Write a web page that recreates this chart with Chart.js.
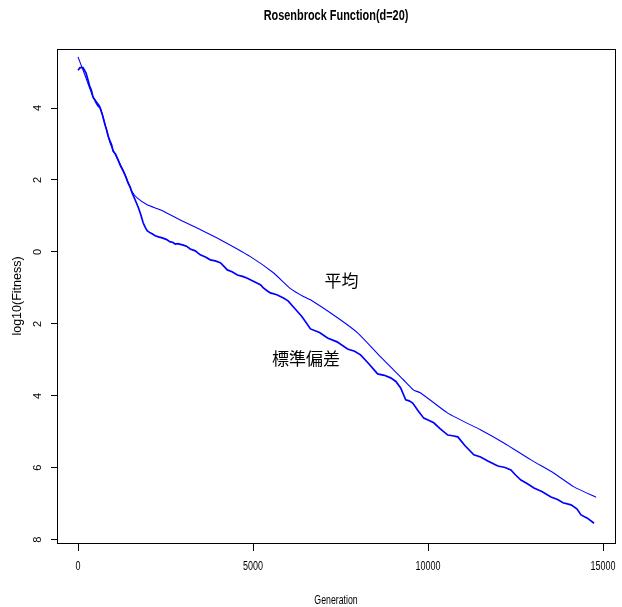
<!DOCTYPE html>
<html><head><meta charset="utf-8">
<script src="https://cdn.jsdelivr.net/npm/chart.js@4/dist/chart.umd.min.js"></script>
<style>html,body{margin:0;padding:0;background:#fff}#wrap{width:622px;height:607px}</style>
</head><body><div id="wrap"><canvas id="c" width="622" height="607"></canvas></div>
<script>
const chartTitle = "Rosenbrock Function(d=20)";
const xTitle = "Generation";
const yTitle = "log10(Fitness)";
const xTicks = [0, 5000, 10000, 15000];
const yTicks = [-8, -6, -4, -2, 0, 2, 4];
const yTickLabels = ["8", "6", "4", "2", "0", "2", "4"];
const meanGen = [0,200,430,630,916,1002,1288,1403,1546,1689,1975,2347,2920,3492,4065,4924,5582,6069,6441,6641,7414,7987,8645,9303,9590,9790,10563,11508,12166,12939,13597,14170,14800];
const meanVal = [5.42,4.91,4.31,4.03,3.03,2.83,2.28,2.01,1.67,1.50,1.31,1.17,0.89,0.62,0.34,-0.13,-0.58,-1.02,-1.24,-1.33,-1.83,-2.25,-2.92,-3.56,-3.84,-3.92,-4.48,-4.95,-5.31,-5.78,-6.15,-6.53,-6.82];
const sdGen = [0,57,143,230,280,330,380,430,480,530,580,630,700,773,820,860,916,960,1002,1070,1145,1210,1288,1360,1431,1490,1546,1630,1718,1790,1861,1920,1975,2061,2130,2204,2300,2405,2520,2634,2700,2777,2850,3006,3100,3206,3350,3492,3640,3779,3920,4065,4150,4265,4400,4552,4700,4838,4980,5124,5210,5296,5400,5496,5680,5868,6000,6155,6400,6641,6900,7128,7400,7700,7900,8072,8300,8559,8750,8931,9080,9217,9361,9460,9561,9720,9876,10000,10162,10350,10563,10700,10849,11050,11307,11500,11708,11850,11994,12200,12366,12500,12653,12850,13025,13250,13511,13700,13855,14084,14250,14370,14550,14742];
const sdVal = [5.05,5.12,5.12,4.97,4.80,4.62,4.50,4.30,4.22,4.12,4.05,4.00,3.80,3.53,3.38,3.22,3.08,2.98,2.80,2.72,2.56,2.40,2.25,2.10,1.91,1.80,1.64,1.45,1.25,1.05,0.81,0.68,0.59,0.53,0.50,0.45,0.42,0.39,0.35,0.28,0.27,0.22,0.23,0.19,0.16,0.08,0.03,-0.08,-0.14,-0.22,-0.25,-0.30,-0.38,-0.50,-0.55,-0.64,-0.68,-0.73,-0.80,-0.87,-0.91,-1.00,-1.08,-1.14,-1.19,-1.28,-1.36,-1.53,-1.80,-2.14,-2.24,-2.39,-2.50,-2.70,-2.76,-2.86,-3.10,-3.39,-3.43,-3.50,-3.60,-3.78,-4.11,-4.14,-4.20,-4.42,-4.62,-4.67,-4.75,-4.92,-5.09,-5.11,-5.14,-5.38,-5.64,-5.70,-5.81,-5.88,-5.95,-5.99,-6.06,-6.20,-6.34,-6.45,-6.56,-6.66,-6.81,-6.88,-6.97,-7.03,-7.14,-7.31,-7.40,-7.54];
const noteText = ["平均", "標準偏差"];
const noteGen = [7529, 6512];
const noteVal = [-0.80, -2.95];

const REG = '"Liberation Sans",Arial,sans-serif';

function condensed(ctx, text, x, y, sx) {
  ctx.save();
  ctx.translate(x, y);
  ctx.scale(sx, 1);
  ctx.fillText(text, 0, 0);
  ctx.restore();
}

const overlay = {
  id: 'overlay',
  afterDraw(chart) {
    const ctx = chart.ctx, a = chart.chartArea;
    const xs = chart.scales.x, ys = chart.scales.y;
    ctx.save();
    ctx.strokeStyle = '#000'; ctx.lineWidth = 1;
    ctx.strokeRect(Math.round(a.left) + 0.5, Math.round(a.top) + 0.5, Math.round(a.right - a.left), Math.round(a.bottom - a.top));
    ctx.fillStyle = '#000';
    ctx.textAlign = 'center'; ctx.textBaseline = 'middle';
    // title
    ctx.font = 'bold 14px ' + REG;
    condensed(ctx, chartTitle, (a.left + a.right) / 2, 16, 0.78);
    // x tick labels
    ctx.font = '12px ' + REG;
    xTicks.forEach(v => condensed(ctx, String(v), xs.getPixelForValue(v), 567, 0.75));
    condensed(ctx, xTitle, (a.left + a.right) / 2, 601, 0.73);
    // y tick labels rotated
    ctx.font = '11px ' + REG;
    yTicks.forEach((v, i) => {
      ctx.save();
      ctx.translate(38, ys.getPixelForValue(v));
      ctx.rotate(-Math.PI / 2);
      ctx.fillText(yTickLabels[i], 0, 0);
      ctx.restore();
    });
    ctx.save();
    ctx.font = '12.5px ' + REG;
    ctx.translate(18, (a.top + a.bottom) / 2);
    ctx.rotate(-Math.PI / 2);
    ctx.fillText(yTitle, 0, 0);
    ctx.restore();
    // annotations
    ctx.font = '17px "Noto Sans CJK JP","Noto Sans CJK SC",sans-serif';
    noteText.forEach((t, i) => ctx.fillText(t, xs.getPixelForValue(noteGen[i]), ys.getPixelForValue(noteVal[i])));
    ctx.restore();
  }
};

new Chart(document.getElementById('c'), {
  type: 'line',
  data: {
    datasets: [
      { label: '平均', data: meanGen.map((g, i) => ({x: g, y: meanVal[i]})), borderColor: '#0000ff', borderWidth: 1.1, pointRadius: 0, tension: 0.2, fill: false },
      { label: '標準偏差', data: sdGen.map((g, i) => ({x: g, y: sdVal[i]})), borderColor: '#0000ff', borderWidth: 1.7, pointRadius: 0, tension: 0, fill: false }
    ]
  },
  options: {
    responsive: false, animation: false, devicePixelRatio: 1,
    layout: { padding: { top: 49, right: 7, left: 0, bottom: 0 } },
    plugins: { legend: { display: false }, tooltip: { enabled: false }, title: { display: false } },
    scales: {
      x: {
        type: 'linear', min: -600, max: 15340,
        afterBuildTicks: s => { s.ticks = xTicks.map(v => ({value: v})); },
        afterFit: s => { s.height = 64; },
        ticks: { display: false },
        grid: { drawOnChartArea: false, drawTicks: true, tickLength: 8, color: '#000' },
        border: { display: false }
      },
      y: {
        type: 'linear', min: -8.09, max: 5.64,
        afterBuildTicks: s => { s.ticks = yTicks.map(v => ({value: v})); },
        afterFit: s => { s.width = 57; },
        ticks: { display: false },
        grid: { drawOnChartArea: false, drawTicks: true, tickLength: 6, color: '#000' },
        border: { display: false }
      }
    }
  },
  plugins: [overlay]
});
</script></body></html>
